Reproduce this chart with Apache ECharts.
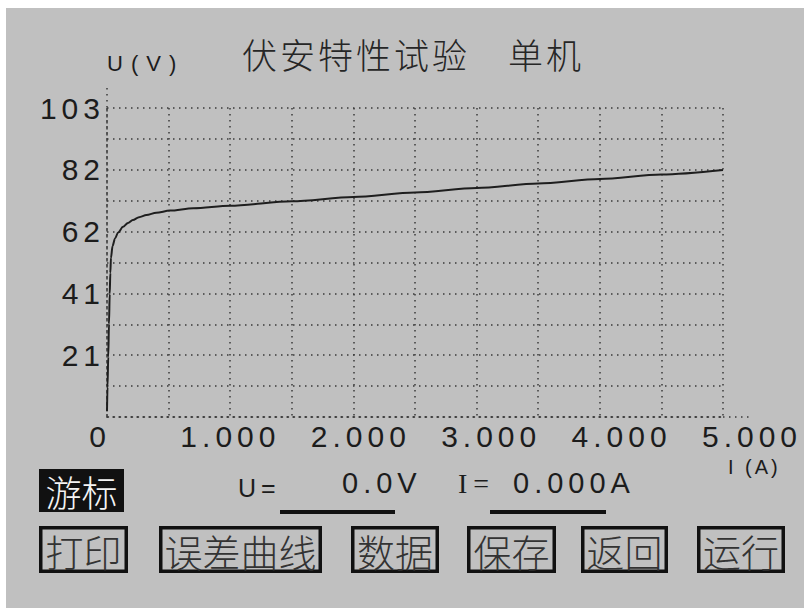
<!DOCTYPE html>
<html><head><meta charset="utf-8">
<script src="https://cdn.jsdelivr.net/npm/echarts@6/dist/echarts.min.js"></script>
<style>
html,body{margin:0;padding:0;background:#fff;width:804px;height:608px;overflow:hidden}
#bg{position:absolute;left:6px;top:8px;width:798px;height:600px;background:#c0c0c0}
#chart{position:absolute;left:0;top:0;width:804px;height:608px}
#chart text[style*="Liberation Sans"]{letter-spacing:5px}
#chart text[style*="Liberation Sans"][style*="22px"]{letter-spacing:8px}
#chart text[style*="Liberation Sans"][style*="20px"]{letter-spacing:3px}
#chart text[style*="Liberation Sans"][style*="24px"]{letter-spacing:3px}
#chart text[style*="Noto Sans CJK SC"][style*="35px"]{letter-spacing:3px}
#chart text[style*="Liberation Serif"]{letter-spacing:6px}
</style></head><body><div id="bg"></div><div id="chart"></div>
<script>
// ---- data ----
const currentA = [0, 0.004, 0.010, 0.016, 0.022, 0.027, 0.032, 0.045, 0.065, 0.09, 0.13, 0.17, 0.21, 0.26, 0.32, 0.40, 0.51, 0.70, 1.0, 1.5, 2.0, 2.5, 3.0, 3.5, 4.0, 4.5, 5.0];
const voltageV = [2, 10, 20, 31, 41, 48, 53, 57, 59.5, 61.5, 63.4, 64.7, 65.7, 66.6, 67.3, 68.1, 68.8, 69.6, 70.4, 71.9, 73.3, 74.8, 76.3, 77.8, 79.3, 80.8, 82.3];
const xTickLabels = ['0', '1.000', '2.000', '3.000', '4.000', '5.000'];
const yTickLabels = ['', '', '21', '', '41', '', '62', '', '82', '', '103'];
const titleText = '伏安特性试验　单机';
const yName = 'U(V)';
const xName = 'I (A)';
const cursorLabel = '游标';
const readULabel = 'U=';
const readUValue = '0.0V';
const readILabel = 'I=';
const readIValue = '0.000A';
const buttons = ['打印', '误差曲线', '数据', '保存', '返回', '运行'];

// ---- layout / style ----
const dot = {color: '#3a3a3a', width: 1.5, type: [1.5, 4.5]};
const ink = '#1c1c1c';
const numFont = 'Liberation Sans';
const cjkFont = '"Noto Sans CJK SC Light", "Noto Sans CJK SC DemiLight", "Noto Sans CJK SC"';
const buttonBoxes = [[39, 128], [159, 322], [351, 439], [467, 556], [581, 668], [697, 785]];
const btnTop = 526, btnBottom = 573;

const chart = echarts.init(document.getElementById('chart'), null, {renderer: 'svg'});

const graphics = [
  {type: 'line', shape: {x1: 107, y1: 88, x2: 107, y2: 108}, style: {stroke: dot.color, lineWidth: dot.width, lineDash: dot.type}},
  {type: 'line', shape: {x1: 723, y1: 417, x2: 752, y2: 417}, style: {stroke: dot.color, lineWidth: dot.width, lineDash: dot.type}},
  {type: 'rect', shape: {x: 39, y: 469, width: 85, height: 43}, style: {fill: '#111'}},
  {type: 'text', x: 81.5, y: 491, style: {text: cursorLabel, fill: '#f4f4f4', font: '300 36px ' + cjkFont, textAlign: 'center', textVerticalAlign: 'middle'}},
  {type: 'text', x: 238, y: 488, style: {text: readULabel, fill: ink, font: '25px "' + numFont + '"', textAlign: 'left', textVerticalAlign: 'middle'}},
  {type: 'text', x: 342, y: 483, style: {text: readUValue, fill: ink, font: '29px "' + numFont + '"', textAlign: 'left', textVerticalAlign: 'middle'}},
  {type: 'rect', shape: {x: 280, y: 510, width: 115, height: 4}, style: {fill: '#111'}},
  {type: 'text', x: 458, y: 483, style: {text: readILabel, fill: ink, font: '28px "Liberation Serif"', textAlign: 'left', textVerticalAlign: 'middle'}},
  {type: 'text', x: 513, y: 483, style: {text: readIValue, fill: ink, font: '29px "' + numFont + '"', textAlign: 'left', textVerticalAlign: 'middle'}},
  {type: 'rect', shape: {x: 490, y: 510, width: 116, height: 4}, style: {fill: '#111'}}
];
buttons.forEach((b, i) => {
  const [l, r] = buttonBoxes[i];
  graphics.push({type: 'rect', shape: {x: l + 1.75, y: btnTop + 1.75, width: r - l - 3.5, height: btnBottom - btnTop - 3.5}, style: {fill: 'none', stroke: '#111', lineWidth: 3.5}});
  graphics.push({type: 'text', x: (l + r) / 2, y: (btnTop + btnBottom) / 2 + 1, style: {text: b, fill: '#333', font: '300 38px ' + cjkFont, textAlign: 'center', textVerticalAlign: 'middle'}});
});

chart.setOption({
  animation: false,
  backgroundColor: 'transparent',
  title: {text: titleText, left: 242, top: 36, padding: 0,
    textStyle: {fontFamily: cjkFont, fontSize: 35, fontWeight: 300, color: '#262626'}},
  grid: [
    {left: 107, top: 108, width: 616, height: 309, containLabel: false},
    {left: 100, top: 108, width: 652, height: 309, containLabel: false}
  ],
  xAxis: [
    {type: 'value', gridIndex: 0, min: 0, max: 5, interval: 0.5,
      axisLine: {show: true, lineStyle: dot}, axisTick: {show: false}, axisLabel: {show: false},
      splitLine: {show: true, lineStyle: dot},
      name: xName, nameLocation: 'end', nameGap: 5,
      nameTextStyle: {fontFamily: numFont, fontSize: 20, color: ink, align: 'left', verticalAlign: 'top', padding: [40, 0, 0, 0]}},
    {type: 'value', gridIndex: 1, min: 0, max: 5, interval: 1,
      axisLine: {show: false}, axisTick: {show: false}, splitLine: {show: false},
      axisLabel: {show: true, showMinLabel: true, showMaxLabel: true, margin: 4,
        formatter: v => xTickLabels[Math.round(v)] || '',
        fontFamily: numFont, fontSize: 30, color: ink}}
  ],
  yAxis: [
    {type: 'value', gridIndex: 0, min: 0, max: 103, interval: 10.3,
      axisLine: {show: true, lineStyle: dot}, axisTick: {show: false},
      splitLine: {show: true, lineStyle: dot},
      axisLabel: {show: true, margin: 2, showMinLabel: true, showMaxLabel: true,
        formatter: v => yTickLabels[Math.round(v / 10.3)] || '',
        fontFamily: numFont, fontSize: 30, color: ink},
      name: yName, nameLocation: 'end', nameGap: 45,
      nameTextStyle: {fontFamily: numFont, fontSize: 22, color: ink, align: 'left', verticalAlign: 'middle'}},
    {type: 'value', gridIndex: 1, min: 0, max: 1, show: false}
  ],
  graphic: graphics,
  series: [{
    type: 'line', xAxisIndex: 0, yAxisIndex: 0,
    data: currentA.map((x, i) => [x, voltageV[i]]),
    showSymbol: false, smooth: 0.3, smoothMonotone: 'x',
    lineStyle: {color: '#1e1e1e', width: 2}
  }]
});
</script></body></html>
